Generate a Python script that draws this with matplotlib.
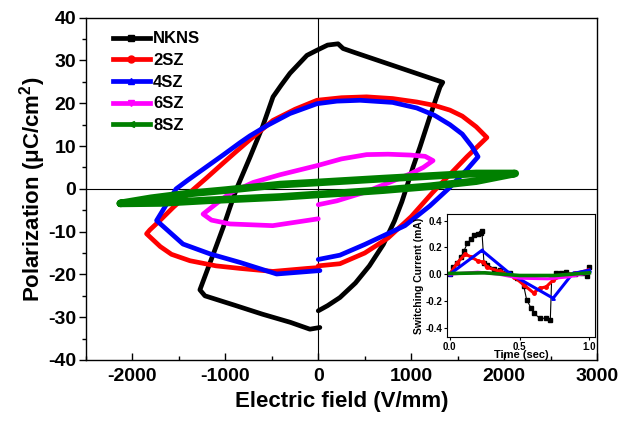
import matplotlib
matplotlib.use("Agg")
import matplotlib.pyplot as plt
from matplotlib.lines import Line2D
from matplotlib.ticker import MultipleLocator

plt.rcParams['font.family'] = ['Liberation Sans', 'DejaVu Sans']
plt.rcParams['font.weight'] = 'bold'
plt.rcParams['axes.unicode_minus'] = False
plt.rcParams['mathtext.fontset'] = 'custom'
plt.rcParams['mathtext.rm'] = 'Liberation Sans:bold'
plt.rcParams['mathtext.bf'] = 'Liberation Sans:bold'
plt.rcParams['mathtext.default'] = 'rm'

# ---------------- main P-E loop data ----------------
labels = ["NKNS", "2SZ", "4SZ", "6SZ", "8SZ"]
colors = ["black", "red", "blue", "magenta", "green"]
markers = ["s", "o", "^", "v", "<"]

nkns_E = [0, 100, 233, 400, 550, 700, 820, 900, 960, 1020, 1095, 1200, 1310, 1340,
          1000, 700, 400, 267, 213, 100, -14, -122, -305, -400, -487, -600, -735, -880,
          -950, -1020, -1100, -1200, -1274, -1220, -900, -600, -300, -90, 17]
nkns_P = [-28.5, -27.3, -25.4, -22.0, -18.0, -13.0, -7.5, -3.0, 1.0, 5.1, 9.8, 16.8, 23.8, 24.9,
          27.4, 29.6, 31.8, 32.8, 33.9, 33.6, 32.4, 31.2, 27.0, 24.2, 21.5, 14.5, 7.4, 0.0,
          -4.3, -8.8, -13.5, -19.3, -23.6, -25.0, -27.2, -29.3, -31.2, -32.8, -32.4]

sz2_E = [0, 233, 500, 750, 1000, 1225, 1400, 1600, 1815,
         1700, 1550, 1417, 1250, 1060, 800, 520, 250, -14, -250, -488, -735, -900, -1025,
         -1200, -1380, -1560, -1700, -1813, -1848,
         -1700, -1580, -1381, -1100, -840, -488, -120, 0]
sz2_P = [-18.0, -17.5, -15.0, -11.5, -6.5, -1.0, 3.0, 7.5, 12.0,
         14.5, 17.0, 18.4, 19.5, 20.3, 21.1, 21.5, 21.3, 20.7, 18.6, 16.0, 11.5, 8.4, 6.0,
         2.6, -0.8, -4.3, -7.3, -9.6, -10.5,
         -13.5, -15.3, -16.8, -18.0, -18.6, -19.3, -18.6, -18.4]

sz4_E = [0, 233, 500, 933, 1200, 1400, 1600, 1720,
         1650, 1550, 1417, 1250, 1060, 800, 450, 200, -14, -305, -550, -735, -842, -1025,
         -1200, -1400, -1530, -1633, -1740,
         -1456, -1165, -842, -448, 18]
sz4_P = [-16.5, -15.5, -13.0, -8.6, -4.0, 0.0, 4.5, 7.5,
         10.0, 12.8, 15.0, 17.2, 18.9, 20.2, 20.7, 20.5, 19.9, 17.6, 14.8, 12.4, 10.8, 7.9,
         5.2, 2.1, 0.0, -3.6, -7.4,
         -12.9, -15.2, -17.2, -19.9, -19.1]

sz6_E = [0, 200, 500, 800, 1000, 1130, 1235,
         1150, 990, 750, 520, 250, 0, -411, -700, -950, -1100, -1240,
         -1150, -950, -490, 0]
sz6_P = [-3.7, -2.8, -0.8, 1.8, 3.6, 5.0, 6.6,
         7.6, 7.9, 8.1, 8.0, 7.0, 5.5, 3.3, 1.5, -1.0, -3.5, -5.9,
         -7.3, -8.2, -8.6, -7.0]

sz8_E = [-2130, -1700, -1200, -410, 0, 233, 700, 1200, 1700, 2120,
         1700, 1200, 700, 233, 0, -410, -1000, -1400, -1800, -2130]
sz8_P = [-3.4, -3.3, -2.7, -1.9, -1.3, -1.0, -0.3, 0.6, 1.8, 3.6,
         3.6, 3.0, 2.4, 1.8, 1.5, 1.0, -0.3, -1.1, -2.2, -3.4]

main_E = [nkns_E, sz2_E, sz4_E, sz6_E, sz8_E]
main_P = [nkns_P, sz2_P, sz4_P, sz6_P, sz8_P]

# ---------------- inset switching current data ----------------
t_nkns = [0.0, 0.02, 0.05, 0.08, 0.1, 0.125, 0.15, 0.17, 0.2, 0.22, 0.23, 0.245, 0.27,
          0.32, 0.36, 0.43, 0.48, 0.53, 0.55, 0.58, 0.6, 0.645, 0.69, 0.72, 0.73,
          0.76, 0.8, 0.83, 0.9, 0.95, 0.98, 1.0]
i_nkns = [0.0, 0.05, 0.08, 0.13, 0.17, 0.23, 0.26, 0.29, 0.30, 0.31, 0.32, 0.08, 0.07,
          0.04, 0.03, 0.005, -0.03, -0.09, -0.19, -0.25, -0.29, -0.33, -0.33, -0.34, -0.02,
          0.005, 0.01, 0.017, 0.0, 0.01, -0.01, 0.05]
t_2sz = [0.0, 0.05, 0.11, 0.15, 0.2, 0.24, 0.27, 0.36, 0.46, 0.53, 0.6, 0.645, 0.69,
         0.74, 0.81, 0.9, 0.99]
i_2sz = [0.0, 0.08, 0.15, 0.13, 0.10, 0.09, 0.05, 0.02, -0.02, -0.08, -0.14, -0.105,
         -0.095, -0.045, -0.007, 0.005, 0.03]
t_4sz = [0.0, 0.23, 0.43, 0.74, 0.88, 1.0]
i_4sz = [0.0, 0.178, 0.005, -0.18, 0.005, 0.03]
t_6sz = [0.0, 0.2, 0.35, 0.5, 0.7, 0.85, 1.0]
i_6sz = [0.0, 0.015, 0.0, -0.03, -0.035, -0.02, 0.01]
t_8sz = [0.0, 0.25, 0.5, 0.75, 1.0]
i_8sz = [0.005, 0.01, -0.01, -0.01, 0.01]

ins_t = [t_nkns, t_2sz, t_4sz, t_6sz, t_8sz]
ins_i = [i_nkns, i_2sz, i_4sz, i_6sz, i_8sz]

# ---------------- figure ----------------
fig = plt.figure(figsize=(6.27, 4.21), dpi=100)
ax = fig.add_axes([86 / 627, 1 - 360 / 421, 511 / 627, (360 - 17.7) / 421])

ax.axhline(0, color="black", lw=0.8, zorder=1)
ax.axvline(0, color="black", lw=0.8, zorder=1)

lws = [3.4, 3.4, 3.4, 3.4, 5.5]
for E, P, c, lw in zip(main_E, main_P, colors, lws):
    ax.plot(E, P, color=c, lw=lw, solid_joinstyle="round", solid_capstyle="round", zorder=2)

ax.set_xlim(-2500, 3000)
ax.set_ylim(-40, 40)
ax.xaxis.set_major_locator(MultipleLocator(1000))
ax.xaxis.set_minor_locator(MultipleLocator(500))
ax.yaxis.set_major_locator(MultipleLocator(10))
ax.yaxis.set_minor_locator(MultipleLocator(5))
ax.tick_params(axis="x", which="major", direction="in", length=5, width=1, labelsize=14, pad=6)
ax.tick_params(axis="x", which="minor", direction="in", length=3, width=1)
ax.tick_params(axis="y", which="major", direction="out", length=5, width=1, labelsize=14, pad=2)
ax.tick_params(axis="y", which="minor", direction="out", length=3, width=1)
for lab in ax.get_xticklabels() + ax.get_yticklabels():
    lab.set_fontweight("bold")
for s in ax.spines.values():
    s.set_linewidth(1)

ax.set_xlabel("Electric field (V/mm)", fontsize=16, fontweight="bold", labelpad=4)
ax.set_ylabel(r"Polarization ($\mu$C/cm$^{2}$)", fontsize=16, fontweight="bold", labelpad=0)

handles = [Line2D([0], [0], color=c, lw=3.4, marker=m, markersize=5) for c, m in zip(colors, markers)]
leg = ax.legend(handles, labels, loc="upper left", bbox_to_anchor=(0.053, 0.96), frameon=False,
                prop={"size": 12, "weight": "bold"}, handlelength=2.2, handletextpad=0.2,
                labelspacing=0.4, borderpad=0, borderaxespad=0)

# ---------------- inset ----------------
ins = fig.add_axes([447 / 627, 1 - 337 / 421, 148 / 627, 123 / 421])
ins.set_facecolor("white")
ins_lw = [0.8, 2.2, 2.2, 2.2, 2.6]
ins_ms = [2.2, 2.5, 2.5, 0, 0]
for t, i, c, lw, ms, m in zip(ins_t, ins_i, colors, ins_lw, ins_ms, markers):
    ins.plot(t, i, color=c, lw=lw, marker=m, markersize=ms)
ins.set_xlim(-0.02, 1.04)
ins.set_ylim(-0.47, 0.45)
ins.set_xticks([0.0, 0.5, 1.0])
ins.set_xticklabels(["0.0", "0.5", "1.0"])
ins.set_yticks([-0.4, -0.2, 0.0, 0.2, 0.4])
ins.set_yticklabels(["-0.4", "-0.2", "0.0", "0.2", "0.4"])
ins.tick_params(axis="both", labelsize=7, length=2.5, width=0.8, pad=1)
for lab in ins.get_xticklabels() + ins.get_yticklabels():
    lab.set_fontweight("bold")
ins.set_xlabel("Time (sec)", fontsize=8, fontweight="bold", labelpad=-1)
ins.set_ylabel("Switching Current (mA)", fontsize=7.5, fontweight="bold", labelpad=1)

fig.savefig("out.png", dpi=100)
